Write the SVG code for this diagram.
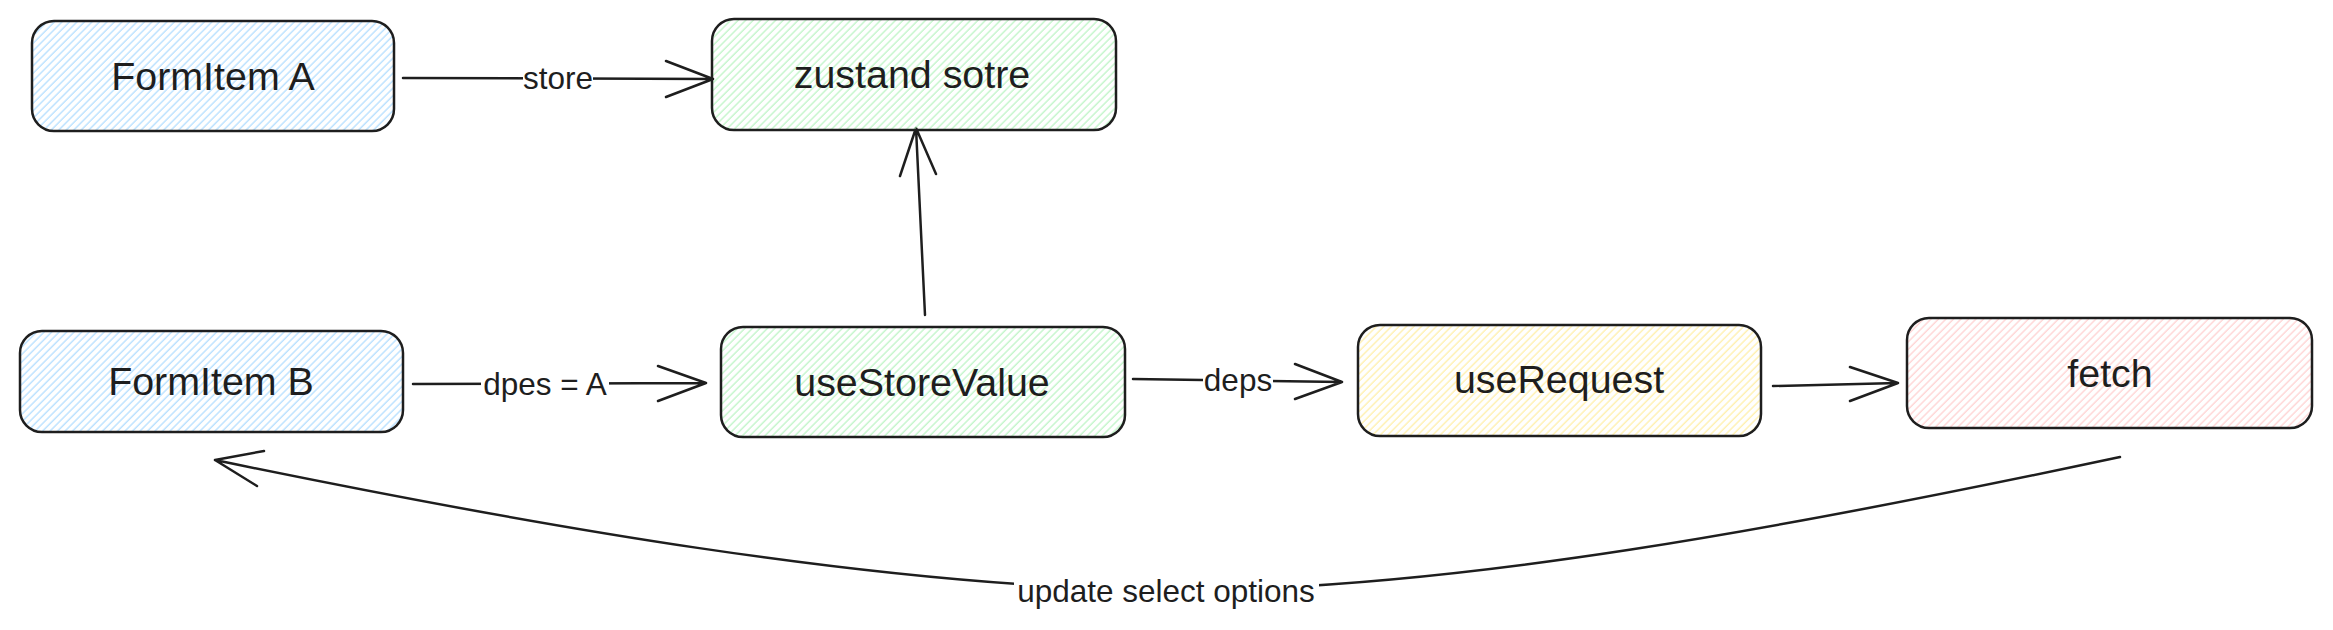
<svg xmlns="http://www.w3.org/2000/svg" width="2333" height="630" viewBox="0 0 2333 630">
<defs>
<pattern id="hb" width="5.3" height="20" patternUnits="userSpaceOnUse" patternTransform="rotate(45)"><line x1="1" y1="0" x2="1" y2="20" stroke="#a5d8ff" stroke-width="1.1"/></pattern>
<pattern id="hg" width="5.3" height="20" patternUnits="userSpaceOnUse" patternTransform="rotate(45)"><line x1="1" y1="0" x2="1" y2="20" stroke="#b2f2bb" stroke-width="1.1"/></pattern>
<pattern id="hy" width="5.3" height="20" patternUnits="userSpaceOnUse" patternTransform="rotate(45)"><line x1="1" y1="0" x2="1" y2="20" stroke="#ffec99" stroke-width="1.1"/></pattern>
<pattern id="hr" width="5.3" height="20" patternUnits="userSpaceOnUse" patternTransform="rotate(45)"><line x1="1" y1="0" x2="1" y2="20" stroke="#ffc9c9" stroke-width="1.1"/></pattern>
</defs>
<style>
.box{stroke:#1e1e1e;stroke-width:2.5}
.nt{font-family:"Liberation Sans",Arial,sans-serif;font-size:39.4px;fill:#1e1e1e;text-anchor:middle}
.lt{font-family:"Liberation Sans",Arial,sans-serif;font-size:31.5px;fill:#1e1e1e;text-anchor:middle}
.ln{fill:none;stroke:#1e1e1e;stroke-width:2.5;stroke-linecap:round;stroke-linejoin:round}
.bg{fill:#ffffff}
</style>
<rect width="2333" height="630" fill="#ffffff"/>
<g id="connectors">
<g id="c-store">
<path class="ln" d="M403,78 L713,79 M666,61 L713,79 L666,97"/>
<rect class="bg" x="523" y="64" width="70" height="32"/>
<text class="lt" x="558" y="89">store</text>
</g>
<g id="c-up">
<path class="ln" d="M925,315 L916,128 M900,176 L916,128 L936,174"/>
</g>
<g id="c-dpes">
<path class="ln" d="M413,384 L706,383 M658,366 L706,383 L658,401"/>
<rect class="bg" x="481" y="368" width="128" height="34"/>
<text class="lt" x="545" y="395">dpes = A</text>
</g>
<g id="c-deps">
<path class="ln" d="M1133,379 L1342,382 M1295,364 L1342,382 L1295,399"/>
<rect class="bg" x="1203" y="364" width="70" height="34"/>
<text class="lt" x="1238" y="391">deps</text>
</g>
<g id="c-fetch">
<path class="ln" d="M1773,386 L1898,383 M1850,367 L1898,383 L1850,401"/>
</g>
<g id="c-update">
<path class="ln" d="M2120,457 C1800,525 1450,592 1166,590 C880,588 520,523 215,460 M264,451 L215,460 L257,486"/>
<rect class="bg" x="1014" y="578" width="305" height="36"/>
<text class="lt" x="1166" y="602">update select options</text>
</g>
</g>
<g id="n-formA">
<rect class="box" x="32" y="21" width="362" height="110" rx="22" fill="url(#hb)"/>
<text class="nt" x="213" y="90">FormItem A</text>
</g>
<g id="n-zustand">
<rect class="box" x="712" y="19" width="404" height="111" rx="22" fill="url(#hg)"/>
<text class="nt" x="912" y="88">zustand sotre</text>
</g>
<g id="n-formB">
<rect class="box" x="20" y="331" width="383" height="101" rx="22" fill="url(#hb)"/>
<text class="nt" x="211" y="395">FormItem B</text>
</g>
<g id="n-useStoreValue">
<rect class="box" x="721" y="327" width="404" height="110" rx="22" fill="url(#hg)"/>
<text class="nt" x="922" y="396">useStoreValue</text>
</g>
<g id="n-useRequest">
<rect class="box" x="1358" y="325" width="403" height="111" rx="22" fill="url(#hy)"/>
<text class="nt" x="1559" y="393">useRequest</text>
</g>
<g id="n-fetch">
<rect class="box" x="1907" y="318" width="405" height="110" rx="22" fill="url(#hr)"/>
<text class="nt" x="2110" y="387">fetch</text>
</g>
</svg>
